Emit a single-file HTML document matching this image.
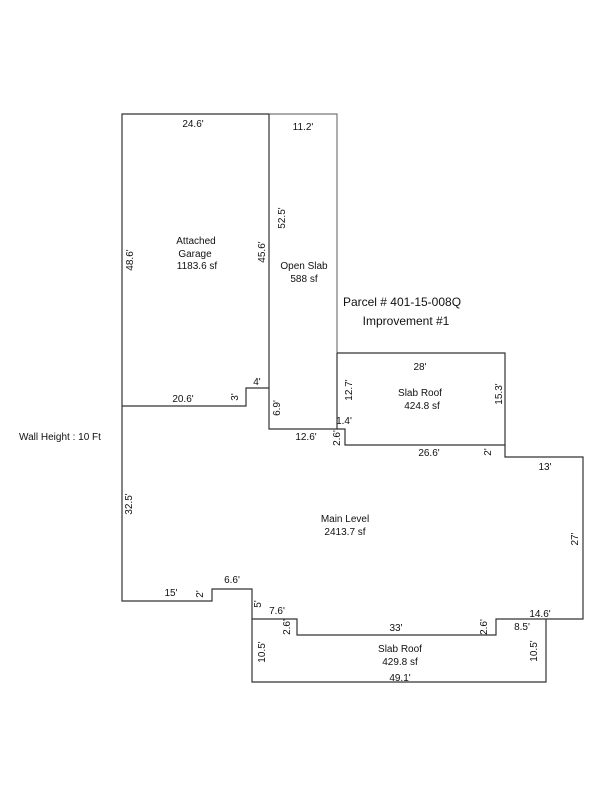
<!DOCTYPE html>
<html><head><meta charset="utf-8"><style>
html,body{margin:0;padding:0;background:#fff;}
svg{display:block;}
text{font-family:"Liberation Sans",Arial,sans-serif;font-size:10px;fill:#111;}
.c{text-anchor:middle;}
</style></head><body>
<svg width="600" height="800" viewBox="0 0 600 800" xmlns="http://www.w3.org/2000/svg">
<g fill="none" stroke="#333" stroke-width="1.2">
<!-- garage -->
<polyline points="122,406 122,114 269,114"/>
<polyline points="122,406 246,406 246,388 269,388"/>
<!-- open slab -->
<polyline points="269,114 337,114 337,353" stroke="#777"/>
<polyline points="269,114 269,429 337,429 337,353"/>
<!-- slab roof upper -->
<polyline points="337,353 505,353 505,445 345,445 345,429 337,429"/>
<!-- main level -->
<polyline points="122,406 122,601 212,601 212,589 252,589 252,619 297,619 297,635 496,635 496,619 583,619 583,457 505,457 505,445"/>
<!-- lower slab roof -->
<polyline points="252,619 252,682 546,682 546,619"/>
</g>
<text class="c" x="193" y="127">24.6'</text>
<text class="c" x="303" y="130">11.2'</text>
<text class="c" transform="translate(285,218) rotate(-90)">52.5'</text>
<text class="c" transform="translate(265,252) rotate(-90)">45.6'</text>
<text class="c" transform="translate(133,260) rotate(-90)">48.6'</text>
<text class="c" x="196" y="244">Attached</text>
<text class="c" x="195" y="257">Garage</text>
<text class="c" x="197" y="269">1183.6 sf</text>
<text class="c" x="304" y="269">Open Slab</text>
<text class="c" x="304" y="282">588 sf</text>
<text class="c" x="402" y="306" style="font-size:12px">Parcel # 401-15-008Q</text>
<text class="c" x="406" y="325" style="font-size:12px">Improvement #1</text>
<text class="c" x="420" y="370">28'</text>
<text class="c" x="420" y="396">Slab Roof</text>
<text class="c" x="422" y="409">424.8 sf</text>
<text class="c" transform="translate(352,390) rotate(-90)">12.7'</text>
<text class="c" transform="translate(502,394) rotate(-90)">15.3'</text>
<text class="c" x="183" y="402">20.6'</text>
<text class="c" transform="translate(238,397) rotate(-90)">3'</text>
<text class="c" x="257" y="385">4'</text>
<text class="c" transform="translate(280,408) rotate(-90)">6.9'</text>
<text class="c" x="344" y="424">1.4'</text>
<text class="c" x="306" y="440">12.6'</text>
<text class="c" transform="translate(340,438) rotate(-90)">2.6'</text>
<text class="c" x="429" y="456">26.6'</text>
<text class="c" transform="translate(491,452) rotate(-90)">2'</text>
<text class="c" x="545" y="470">13'</text>
<text class="c" x="60" y="440">Wall Height : 10 Ft</text>
<text class="c" transform="translate(132,504) rotate(-90)">32.5'</text>
<text class="c" x="345" y="522">Main Level</text>
<text class="c" x="345" y="535">2413.7 sf</text>
<text class="c" transform="translate(578,539) rotate(-90)">27'</text>
<text class="c" x="232" y="583">6.6'</text>
<text class="c" x="171" y="596">15'</text>
<text class="c" transform="translate(203,594) rotate(-90)">2'</text>
<text class="c" transform="translate(261,604) rotate(-90)">5'</text>
<text class="c" x="277" y="614">7.6'</text>
<text class="c" x="540" y="617">14.6'</text>
<text class="c" transform="translate(290,627) rotate(-90)">2.6'</text>
<text class="c" x="396" y="631">33'</text>
<text class="c" transform="translate(487,627) rotate(-90)">2.6'</text>
<text class="c" x="522" y="630">8.5'</text>
<text class="c" transform="translate(265,652) rotate(-90)">10.5'</text>
<text class="c" transform="translate(537,651) rotate(-90)">10.5'</text>
<text class="c" x="400" y="652">Slab Roof</text>
<text class="c" x="400" y="665">429.8 sf</text>
<text class="c" x="400" y="681">49.1'</text>
</svg>
</body></html>
